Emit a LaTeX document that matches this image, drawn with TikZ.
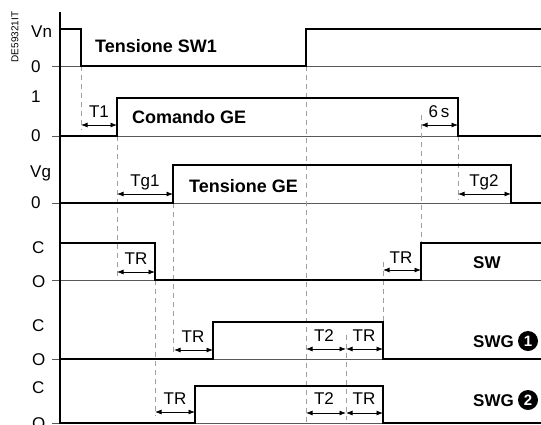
\documentclass[tikz,border=0pt]{standalone}
\usepackage{fontspec}
\setmainfont{Liberation Sans}
\usetikzlibrary{arrows.meta}
\begin{document}
\begin{tikzpicture}[x=1pt,y=-1pt,
  sig/.style={line width=2.8pt, line join=miter},
  baseln/.style={line width=0.8pt, gray!70!black},
  guide/.style={gray!75, line width=0.8pt, dash pattern=on 5pt off 4pt},
  dim/.style={line width=0.8pt, {Latex[length=6.5pt,width=5pt]}-{Latex[length=6.5pt,width=5pt]}},
  lab/.style={font=\fontsize{17}{17}\selectfont, anchor=base, inner sep=0pt},
  blab/.style={font=\fontsize{18}{18}\selectfont\bfseries, anchor=base west, inner sep=0pt},
  slab/.style={font=\fontsize{17}{17}\selectfont\bfseries, anchor=base west, inner sep=0pt},
  ylab/.style={font=\fontsize{17}{17}\selectfont, anchor=base west, inner sep=0pt},
  num/.style={circle, fill=black, text=white, inner sep=0pt, minimum size=20pt, font=\fontsize{15}{15}\selectfont\bfseries},
]
\useasboundingbox (0,0) rectangle (541,424);

% baselines
\foreach \yy in {66,136,203,280,359,423} \draw[baseln] (52,\yy) -- (541,\yy);

% axis
\draw[line width=1.2pt] (60,12) -- (60,424);

% guide lines
\draw[guide] (81,66) -- (81,130);
\draw[guide] (117,136) -- (117,277);
\draw[guide] (306,66) -- (306,424);
\draw[guide] (421,115) -- (421,243);
\draw[guide] (458,136) -- (458,200);
\draw[guide] (173,203) -- (173,355);
\draw[guide] (155,280) -- (155,416);
\draw[guide] (383,262) -- (383,322);
\draw[guide] (346,335) -- (346,420);

% signals
\draw[sig] (60,29) -- (81,29) -- (81,66) -- (306,66) -- (306,29) -- (541,29);
\draw[sig] (60,136) -- (117,136) -- (117,98) -- (458,98) -- (458,136) -- (541,136);
\draw[sig] (60,203) -- (173,203) -- (173,165) -- (511,165) -- (511,203) -- (541,203);
\draw[sig] (60,243) -- (155,243) -- (155,280) -- (421,280) -- (421,243) -- (541,243);
\draw[sig] (60,359) -- (213,359) -- (213,322) -- (383,322) -- (383,359) -- (541,359);
\draw[sig] (60,423) -- (195,423) -- (195,386) -- (383,386) -- (383,423) -- (541,423);

% dimension arrows
\coordinate (a1) at (81,125);  \coordinate (b1) at (117,125);
\coordinate (a2) at (421,125); \coordinate (b2) at (458,125);
\coordinate (a3) at (117,194); \coordinate (b3) at (173,194);
\coordinate (a4) at (458,194); \coordinate (b4) at (511,194);
\coordinate (a5) at (117,272); \coordinate (b5) at (155,272);
\coordinate (a6) at (383,270); \coordinate (b6) at (421,270);
\coordinate (a7) at (174,350); \coordinate (b7) at (213,350);
\coordinate (a8) at (306,349); \coordinate (b8) at (346,349);
\coordinate (a9) at (346,349); \coordinate (b9) at (383,349);
\coordinate (a10) at (155,412); \coordinate (b10) at (195,412);
\coordinate (a11) at (306,413); \coordinate (b11) at (346,413);
\coordinate (a12) at (346,413); \coordinate (b12) at (383,413);
\foreach \i in {1,...,12} \draw[dim] (a\i) -- (b\i);

% arrow labels
\node[lab] (l1) at (99,117) {T1};
\node[lab] (l2) at (439,117) {6\,s};
\node[lab] (l3) at (145,186) {Tg1};
\node[lab] (l4) at (484,186) {Tg2};
\node[lab] (l5) at (136,264) {TR};
\node[lab] (l6) at (401,263) {TR};
\node[lab] (l7) at (193,342) {TR};
\node[lab] (l8) at (324,341) {T2};
\node[lab] (l9) at (364,341) {TR};
\node[lab] (l10) at (175,404) {TR};
\node[lab] (l11) at (324,404) {T2};
\node[lab] (l12) at (364,404) {TR};

% axis labels
\node[ylab] (y1) at (31,37) {Vn};
\node[ylab] (y2) at (31,72) {0};
\node[ylab] (y3) at (31,102) {1};
\node[ylab] (y4) at (31,141) {0};
\node[ylab] (y5) at (30,177) {Vg};
\node[ylab] (y6) at (31,208) {0};
\node[ylab] (y7) at (32,253) {C};
\node[ylab] (y8) at (32,287) {O};
\node[ylab] (y9) at (32,331) {C};
\node[ylab] (y10) at (32,365) {O};
\node[ylab] (y11) at (32,393) {C};
\node[ylab] (y12) at (32,429) {O};

% signal names
\node[blab] (n1) at (95,52) {Tensione SW1};
\node[blab] (n2) at (132,123) {Comando GE};
\node[blab] (n3) at (189,192) {Tensione GE};
\node[slab] (n4) at (473,268) {SW};
\node[slab] (n5) at (473,347) {SWG};
\node[slab] (n6) at (473,406) {SWG};
\node[num] (c1) at (528,341) {1};
\node[num] (c2) at (528,400) {2};

% id
\node[rotate=90, font=\fontsize{10}{10}\selectfont, inner sep=0pt] (id) at (15,37) {DE59321IT};
\end{tikzpicture}
\end{document}
